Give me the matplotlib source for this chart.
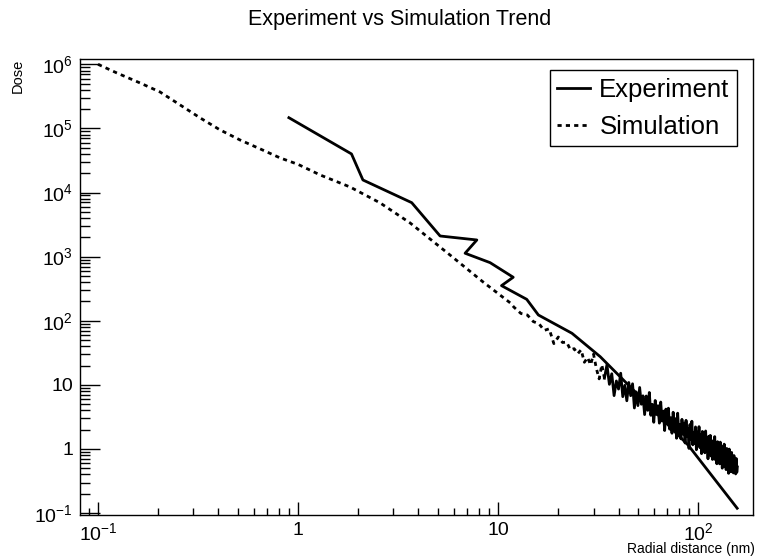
import numpy as np
import matplotlib
matplotlib.use("Agg")
import matplotlib.pyplot as plt
from matplotlib.ticker import LogLocator, NullFormatter

# Experiment (solid line)
EXP_R = [0.90, 1.85, 2.11, 3.70, 5.13, 7.83, 6.84, 9.12, 11.9, 10.4, 13.9, 15.9, 23.4, 32.4, 89.1, 156.7]
EXP_DOSE = [1.47e5, 4.0e4, 1.57e4, 6.95e3, 2.1e3, 1.82e3, 1.13e3, 806, 477, 353, 216, 123, 63.8, 27.5, 1.15, 0.119]

# Simulation, smooth part (dotted line)
SIM_R = [0.1, 0.124, 0.162, 0.204, 0.257, 0.324, 0.407, 0.513, 0.646, 0.813, 1.0, 1.29, 1.82, 2.57, 3.63, 5.75, 8.41, 11.5]
SIM_DOSE = [1.0e6, 7.35e5, 5.13e5, 3.71e5, 2.33e5, 1.46e5, 9.5e4, 6.6e4, 4.8e4, 3.47e4, 2.75e4, 1.88e4, 1.22e4,
            6.9e3, 3.36e3, 1.06e3, 403, 190]

# Simulation, noisy tail: 1 nm bins from 12 to 157 nm
TAIL_R_START = 12
TAIL_DOSE = [
    163, 130, 123, 97, 90, 70.7, 74.9, 44.0, 55.8, 45.8,
    46.5, 35.2, 36.7, 30.6, 35.2, 22.5, 26.8, 20.6, 30.1, 17.9,
    12.4, 20.6, 12.7, 20.6, 10.2, 14.9, 6.8, 11.5, 8.6, 15.2,
    6.55, 9.85, 5.65, 10.9, 6.78, 10.4, 4.36, 7.76, 4.75, 9.11,
    4.99, 6.75, 3.44, 6.71, 4.00, 7.61, 3.35, 4.97, 2.61, 5.71,
    3.45, 4.73, 2.53, 5.40, 2.73, 3.90, 1.94, 4.19, 2.59, 4.33,
    2.04, 3.07, 1.76, 3.74, 2.08, 2.97, 1.47, 3.62, 1.76, 2.41,
    1.44, 2.90, 1.71, 2.53, 1.24, 2.80, 1.57, 2.09, 1.02, 2.41,
    1.40, 2.71, 1.16, 1.82, 1.21, 2.21, 0.972, 1.83, 1.24, 2.23,
    1.05, 1.67, 0.846, 1.88, 1.18, 1.69, 0.871, 1.91, 0.968, 1.32,
    0.703, 1.58, 0.926, 1.63, 0.776, 1.29, 0.686, 1.35, 0.878, 1.56,
    0.679, 1.09, 0.588, 1.30, 0.730, 1.12, 0.586, 1.28, 0.709, 0.910,
    0.502, 1.09, 0.614, 1.19, 0.536, 0.894, 0.476, 1.02, 0.614, 0.904,
    0.417, 0.997, 0.514, 0.748, 0.440, 0.884, 0.523, 0.756, 0.423, 0.790,
    0.474, 0.657, 0.408, 0.711, 0.432, 0.525,
]
# beyond this radius the bins are so dense that the dotted line renders as a solid band
DENSE_FROM_R = 34

X_TICKS = [0.1, 1, 10, 100]
X_TICK_LABELS = ["$10^{-1}$", "1", "10", "$10^{2}$"]
Y_TICKS = [0.1, 1, 10, 100, 1e3, 1e4, 1e5, 1e6]
Y_TICK_LABELS = ["$10^{-1}$", "1", "10", "$10^{2}$", "$10^{3}$", "$10^{4}$", "$10^{5}$", "$10^{6}$"]


def main():
    plt.rcParams["font.family"] = ["Liberation Sans", "DejaVu Sans"]
    plt.rcParams["mathtext.fontset"] = "custom"
    plt.rcParams["mathtext.rm"] = "Liberation Sans"
    plt.rcParams["mathtext.default"] = "regular"

    tail_r = np.arange(TAIL_R_START, TAIL_R_START + len(TAIL_DOSE))
    sim_r = np.concatenate([SIM_R, tail_r])
    sim_dose = np.concatenate([SIM_DOSE, TAIL_DOSE])
    sparse = sim_r <= DENSE_FROM_R
    dense = sim_r >= DENSE_FROM_R

    fig = plt.figure(figsize=(7.57, 5.57), dpi=100)
    ax = fig.add_axes([80 / 757, 42 / 557, 673 / 757, 456 / 557])

    ax.plot(EXP_R, EXP_DOSE, color="black", lw=2, label="Experiment")
    ax.plot(sim_r[sparse], sim_dose[sparse], color="black", lw=2, dashes=(1.5, 1.5), label="Simulation")
    ax.plot(sim_r[dense], sim_dose[dense], color="black", lw=2)

    ax.set_xscale("log")
    ax.set_yscale("log")
    ax.set_xlim(0.0813, 188)
    ax.set_ylim(0.0934, 1.21e6)

    ax.set_xticks(X_TICKS, X_TICK_LABELS)
    ax.set_yticks(Y_TICKS, Y_TICK_LABELS)
    ax.xaxis.set_minor_locator(LogLocator(base=10, subs=np.arange(2, 10), numticks=50))
    ax.yaxis.set_minor_locator(LogLocator(base=10, subs=np.arange(2, 10), numticks=50))
    ax.xaxis.set_minor_formatter(NullFormatter())
    ax.yaxis.set_minor_formatter(NullFormatter())

    ax.tick_params(axis="x", which="major", direction="in", length=9.4, width=1, labelsize=14, pad=5)
    ax.tick_params(axis="x", which="minor", direction="in", length=4.7, width=1)
    ax.tick_params(axis="y", which="major", direction="in", length=14.4, width=1, labelsize=14, pad=5)
    ax.tick_params(axis="y", which="minor", direction="in", length=7.2, width=1)
    for s in ax.spines.values():
        s.set_linewidth(1)

    fig.text(400 / 757, 1 - 20 / 557, "Experiment vs Simulation Trend", ha="center", va="center", fontsize=15.5)
    fig.text(755 / 757, 1 - 549 / 557, "Radial distance (nm)", ha="right", va="center", fontsize=10)
    fig.text(18 / 757, 1 - 59 / 557, "Dose", ha="center", va="top", rotation=90, fontsize=10.5)

    leg = ax.legend(loc="upper right", bbox_to_anchor=(0.9767, 0.9759), fontsize=18.5,
                    handlelength=1.25, handletextpad=0.38, borderpad=0.3, labelspacing=0.5,
                    fancybox=False, framealpha=1, edgecolor="black", borderaxespad=0)
    leg.get_frame().set_linewidth(1)

    fig.savefig("out.png", dpi=100)


if __name__ == '__main__':
    main()
